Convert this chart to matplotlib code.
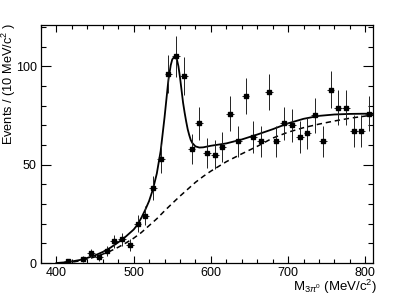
import numpy as np
import matplotlib
matplotlib.use("Agg")
import matplotlib.pyplot as plt
from matplotlib.ticker import MultipleLocator

plt.rcParams['font.family'] = ['Liberation Sans', 'DejaVu Sans']
plt.rcParams['mathtext.fontset'] = 'custom'
plt.rcParams['mathtext.rm'] = 'Liberation Sans'
plt.rcParams['mathtext.it'] = 'Liberation Sans:italic'

# data points (bin centers, counts)
mass = [415, 435, 445, 455, 465, 475, 485, 495, 505, 515, 525, 535, 545, 555,
        565, 575, 585, 595, 605, 615, 625, 635, 645, 655, 665, 675, 685, 695,
        705, 715, 725, 735, 745, 755, 765, 775, 785, 795, 805]
counts = [1, 2, 5, 3, 6, 11, 12, 9, 20, 24, 38, 53, 96, 105,
          95, 58, 71, 56, 55, 59, 76, 62, 85, 64, 62, 87, 62, 71,
          70, 64, 66, 75, 62, 88, 79, 79, 67, 67, 76]

# total fit curve
fit_x = [400, 410, 420, 430, 440, 450, 460, 470, 480, 490, 500, 505, 510, 515,
         520, 525, 530, 535, 540, 545, 548, 550, 553, 556, 558, 560, 562, 564,
         566, 568, 570, 572, 574, 576, 580, 585, 590, 600, 620, 640, 660, 680,
         700, 720, 740, 760, 780, 800, 810]
fit_y = [0.0, 0.3, 0.8, 1.5, 2.6, 3.9, 5.6, 7.8, 10.5, 13.5, 17.0, 19.5, 23.0, 27.0,
         31.5, 37.5, 45.5, 57.0, 74.0, 93.0, 100.5, 103.5, 105.0, 103.5, 100.0, 94.5, 88.0, 81.5,
         76.5, 72.0, 68.0, 65.0, 62.5, 61.0, 59.3, 58.7, 58.8, 59.6, 60.8, 62.8, 65.3, 68.0,
         71.0, 73.3, 74.8, 75.5, 75.8, 75.9, 75.9]

# background curve
bkg_x = [410, 420, 430, 440, 450, 460, 470, 480, 490, 500, 510, 520, 530, 540,
         550, 560, 570, 580, 590, 600, 620, 640, 660, 680, 700, 720, 740, 760,
         780, 800, 810]
bkg_y = [0.0, 0.4, 1.1, 2.0, 3.1, 4.5, 6.1, 8.0, 10.2, 12.6, 15.5, 19.0, 22.5, 26.5,
         30.3, 34.0, 37.5, 41.0, 44.0, 46.7, 51.5, 55.5, 59.3, 63.5, 66.5, 68.8, 70.6, 72.2,
         73.6, 74.7, 75.2]

bin_width = 10

fig = plt.figure(figsize=(4.15, 2.99), dpi=100)
ax = fig.add_axes([41/415, 1-263/299, (373-41)/415, (263-25)/299])

m = np.array(mass, dtype=float)
c = np.array(counts, dtype=float)
ax.errorbar(m, c, yerr=np.sqrt(c), xerr=bin_width/2, fmt='s', ms=2.2,
            color='black', ecolor='#222222', elinewidth=0.7, capsize=0, zorder=3)
ax.plot(fit_x, fit_y, color='black', lw=1.3, zorder=2)
ax.plot(bkg_x, bkg_y, color='black', lw=1.1, ls=(0, (3.5, 2.5)), zorder=2)

ax.set_xlim(380, 810)
ax.set_ylim(0, 121)
ax.xaxis.set_major_locator(MultipleLocator(100))
ax.xaxis.set_minor_locator(MultipleLocator(20))
ax.yaxis.set_major_locator(MultipleLocator(50))
ax.yaxis.set_minor_locator(MultipleLocator(10))
ax.tick_params(axis='both', which='both', direction='in', top=True, right=True,
               labelsize=9, width=0.8, pad=3)
ax.tick_params(axis='x', which='major', length=5)
ax.tick_params(axis='x', which='minor', length=3)
ax.tick_params(axis='y', which='major', length=7)
ax.tick_params(axis='y', which='minor', length=3.6)
for s in ax.spines.values():
    s.set_linewidth(0.9)

fig.text(8.5/415, 1-23/299, 'Events / (10 MeV/c$^{2}$ )', fontsize=9.2,
         rotation=90, ha='center', va='top')
fig.text(377/415, 1-296/299, r'M$_{3\pi^{0}}$ (MeV/c$^{2}$)', fontsize=9.5,
         ha='right', va='bottom')

fig.savefig('out.png', dpi=100)
